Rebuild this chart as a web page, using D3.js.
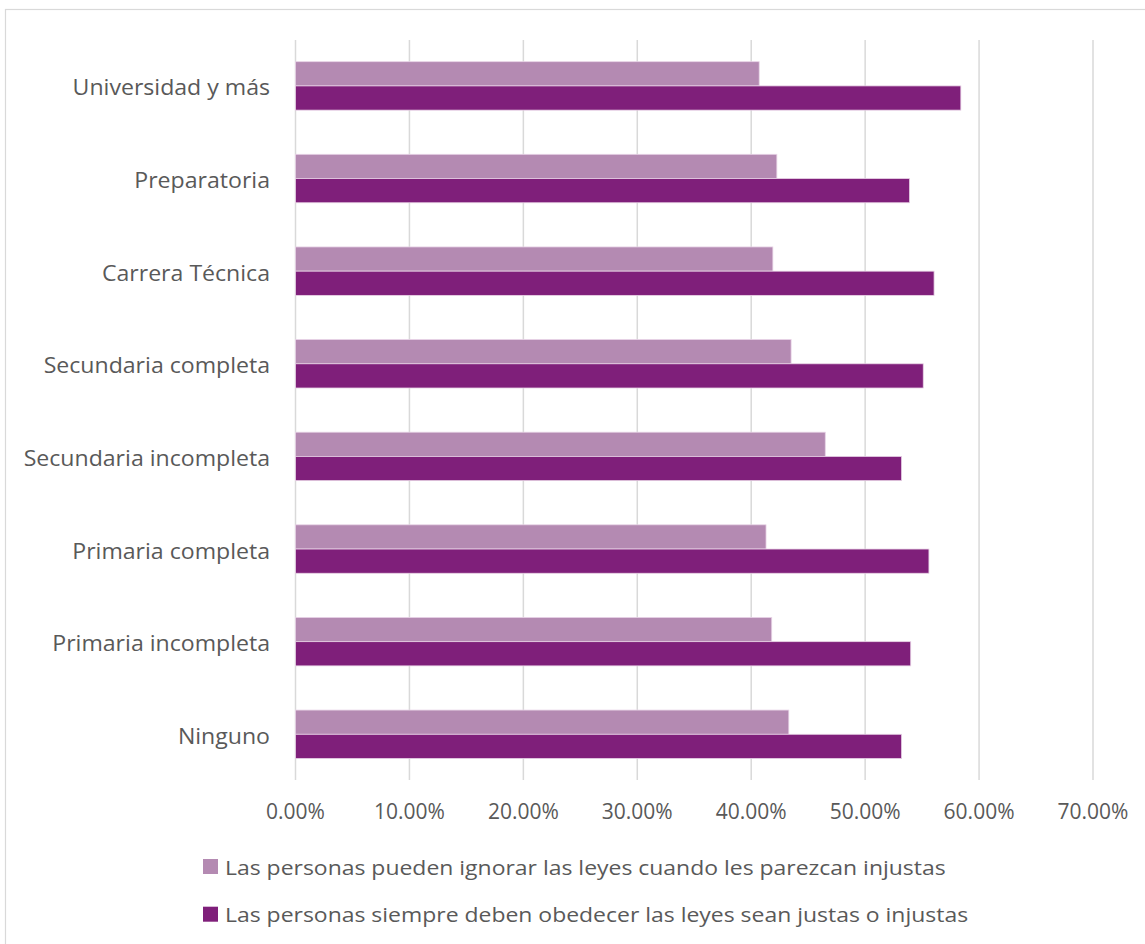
<!DOCTYPE html>
<html><head><meta charset="utf-8">
<script src="https://cdn.jsdelivr.net/npm/d3@7"></script>
<style>body{margin:0;background:#fff}svg{display:block}text{font-family:"Open Sans",sans-serif;fill:#595959}</style>
</head><body>
<svg id="c" width="1145" height="944"></svg>
<script>
const categories = ["Universidad y más","Preparatoria","Carrera Técnica","Secundaria completa","Secundaria incompleta","Primaria completa","Primaria incompleta","Ninguno"];
const seriesNames = ["Las personas pueden ignorar las leyes cuando les parezcan injustas","Las personas siempre deben obedecer las leyes sean justas o injustas"];
const ignorar = [0.407,0.4225,0.419,0.435,0.465,0.413,0.418,0.433];
const obedecer = [0.584,0.539,0.5605,0.551,0.532,0.556,0.540,0.532];
const ticks = [0,0.1,0.2,0.3,0.4,0.5,0.6,0.7];
const colors = ["#b48ab2","#7f1f7a"];

const svg = d3.select("#c");
svg.append("rect").attr("x",5.5).attr("y",9.5).attr("width",1160).attr("height",960).attr("fill","#fff").attr("stroke","#d9d9d9").attr("stroke-width",1.2);

const x = d3.scaleLinear().domain([0,0.7]).range([295.5,1093]);
const y = d3.scaleBand().domain(categories).range([39.6,780.6]).paddingInner(0.477).paddingOuter(0.2385);
const sub = d3.scaleBand().domain([0,1]).range([0,y.bandwidth()]);

svg.append("g").selectAll("line").data(ticks).join("line")
  .attr("x1",d=>x(d)).attr("x2",d=>x(d)).attr("y1",40).attr("y2",780)
  .attr("stroke","#d9d9d9").attr("stroke-width",1.5);

const series = [ignorar, obedecer];
series.forEach((vals,si)=>{
  svg.append("g").selectAll("rect").data(categories).join("rect")
    .attr("x",x(0)).attr("y",(d)=>y(d)+sub(si))
    .attr("width",(d,i)=>x(vals[i])-x(0)).attr("height",sub.bandwidth())
    .attr("fill",colors[si]).attr("stroke","#e8d3e6").attr("stroke-width",0.8);
});

svg.append("g").selectAll("text").data(categories).join("text")
  .attr("transform",d=>`translate(270,${y(d)+y.bandwidth()/2+1}) scale(1.1,1)`)
  .attr("text-anchor","end")
  .attr("dominant-baseline","central").attr("font-size",21).text(d=>d);

svg.append("g").selectAll("text").data(ticks).join("text")
  .attr("x",d=>x(d)).attr("y",811).attr("text-anchor","middle")
  .attr("dominant-baseline","central").attr("font-size",21).text(d=>d3.format(".2%")(d));

const lg = svg.append("g").selectAll("g").data(seriesNames).join("g")
  .attr("transform",(d,i)=>`translate(203,${866.5+i*47.7})`);
lg.append("rect").attr("x",0).attr("y",-7.5).attr("width",15).attr("height",15).attr("fill",(d,i)=>colors[i]);
lg.append("text").attr("transform","translate(22,0) scale(1.12,1)").attr("dominant-baseline","central").attr("font-size",20.5).text(d=>d);
</script>
</body></html>
